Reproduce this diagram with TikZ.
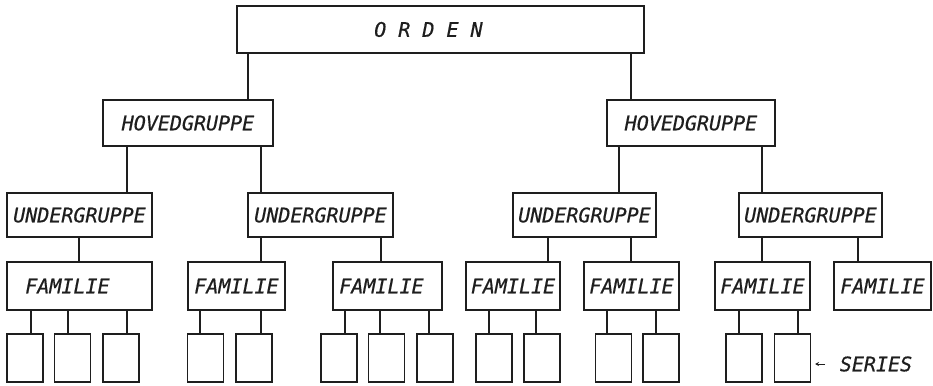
\documentclass[tikz,border=0pt]{standalone}
\usepackage{fontspec}
\newfontfamily\plotfont[FakeBold=0.6]{DejaVu Sans Mono Oblique}
\usetikzlibrary{arrows.meta}
\definecolor{ink}{HTML}{1E1E1E}
\begin{document}
\begin{tikzpicture}[x=1pt,y=-1pt,
  bx/.style={draw=ink, line width=1.1pt, rectangle, inner sep=0pt, text=ink, font=\plotfont\fontsize{20}{20}\selectfont},
  conn/.style={draw=ink, line width=1.1pt}]
\useasboundingbox (0,0) rectangle (933,385);
% top
\node[bx, minimum width=407pt, minimum height=47pt] (orden) at (440.5,29.5) {O R D E N\phantom{XX}};
% main groups
\node[bx, minimum width=170pt, minimum height=46pt] (hg1) at (188,123) {HOVEDGRUPPE};
\node[bx, minimum width=168pt, minimum height=46pt] (hg2) at (691,123) {HOVEDGRUPPE};
% sub groups
\node[bx, minimum width=145pt, minimum height=44pt] (ug1) at (79.5,215) {UNDERGRUPPE};
\node[bx, minimum width=145pt, minimum height=44pt] (ug2) at (320.5,215) {UNDERGRUPPE};
\node[bx, minimum width=143pt, minimum height=44pt] (ug3) at (584.5,215) {UNDERGRUPPE};
\node[bx, minimum width=143pt, minimum height=44pt] (ug4) at (810.5,215) {UNDERGRUPPE};
% families
\node[bx, minimum width=145pt, minimum height=48pt] (fa1) at (79.5,286) {FAMILIE\phantom{XX}};
\node[bx, minimum width=97pt, minimum height=48pt] (fa2) at (236.5,286) {FAMILIE};
\node[bx, minimum width=109pt, minimum height=48pt] (fa3) at (387.5,286) {FAMILIE\phantom{X}};
\node[bx, minimum width=94pt, minimum height=48pt] (fa4) at (513,286) {FAMILIE};
\node[bx, minimum width=95pt, minimum height=48pt] (fa5) at (631.5,286) {FAMILIE};
\node[bx, minimum width=95pt, minimum height=48pt] (fa6) at (762.5,286) {FAMILIE};
\node[bx, minimum width=97pt, minimum height=48pt] (fa7) at (882.5,286) {FAMILIE};
% series
\tikzset{sr/.style={bx, minimum width=36pt, minimum height=48pt}}
\node[sr] (s11) at (25,358) {};
\node[sr] (s12) at (72.5,358) {};
\node[sr] (s13) at (121,358) {};
\node[sr] (s21) at (205.5,358) {};
\node[sr] (s22) at (254,358) {};
\node[sr] (s31) at (339,358) {};
\node[sr] (s32) at (386.5,358) {};
\node[sr] (s33) at (435,358) {};
\node[sr] (s41) at (494,358) {};
\node[sr] (s42) at (542,358) {};
\node[sr] (s51) at (613.5,358) {};
\node[sr] (s52) at (661,358) {};
\node[sr] (s61) at (744,358) {};
\node[sr] (s62) at (792.5,358) {};
% connectors
\draw[conn] (248,0 |- orden.south) -- (248,0 |- hg1.north);
\draw[conn] (631,0 |- orden.south) -- (631,0 |- hg2.north);
\draw[conn] (127,0 |- hg1.south) -- (127,0 |- ug1.north);
\draw[conn] (261,0 |- hg1.south) -- (261,0 |- ug2.north);
\draw[conn] (619,0 |- hg2.south) -- (619,0 |- ug3.north);
\draw[conn] (762,0 |- hg2.south) -- (762,0 |- ug4.north);
\draw[conn] (79,0 |- ug1.south) -- (79,0 |- fa1.north);
\draw[conn] (261,0 |- ug2.south) -- (261,0 |- fa2.north);
\draw[conn] (381,0 |- ug2.south) -- (381,0 |- fa3.north);
\draw[conn] (548,0 |- ug3.south) -- (548,0 |- fa4.north);
\draw[conn] (631,0 |- ug3.south) -- (631,0 |- fa5.north);
\draw[conn] (762,0 |- ug4.south) -- (762,0 |- fa6.north);
\draw[conn] (858,0 |- ug4.south) -- (858,0 |- fa7.north);
\draw[conn] (31,0 |- fa1.south) -- (31,0 |- s11.north);
\draw[conn] (68,0 |- fa1.south) -- (68,0 |- s12.north);
\draw[conn] (127,0 |- fa1.south) -- (127,0 |- s13.north);
\draw[conn] (200,0 |- fa2.south) -- (200,0 |- s21.north);
\draw[conn] (261,0 |- fa2.south) -- (261,0 |- s22.north);
\draw[conn] (345,0 |- fa3.south) -- (345,0 |- s31.north);
\draw[conn] (380,0 |- fa3.south) -- (380,0 |- s32.north);
\draw[conn] (429,0 |- fa3.south) -- (429,0 |- s33.north);
\draw[conn] (489,0 |- fa4.south) -- (489,0 |- s41.north);
\draw[conn] (536,0 |- fa4.south) -- (536,0 |- s42.north);
\draw[conn] (607,0 |- fa5.south) -- (607,0 |- s51.north);
\draw[conn] (656,0 |- fa5.south) -- (656,0 |- s52.north);
\draw[conn] (739,0 |- fa6.south) -- (739,0 |- s61.north);
\draw[conn] (798,0 |- fa6.south) -- (798,0 |- s62.north);
% series label
\node[inner sep=0pt, text=ink, font=\plotfont\fontsize{20}{20}\selectfont] (ser) at (876,364) {SERIES};
\coordinate (arT) at (825,364);
\coordinate (arH) at (815,364);
\draw[conn, line width=0.9pt, -{Stealth[length=4pt,width=4pt]}] (arT) -- (arH);
\end{tikzpicture}
\end{document}
